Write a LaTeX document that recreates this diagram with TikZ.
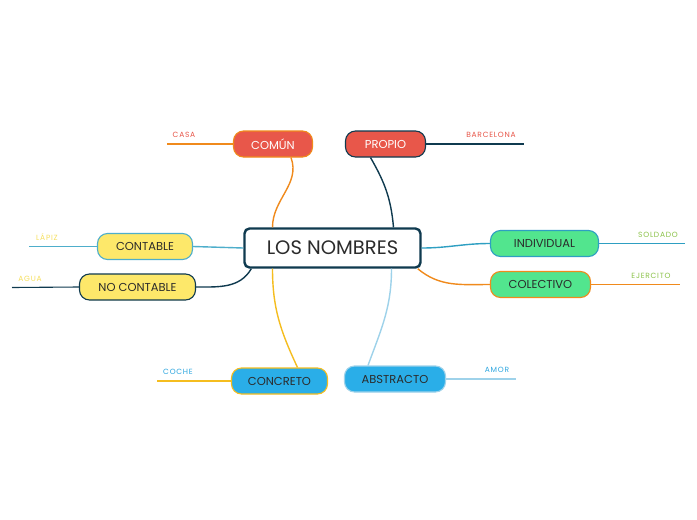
\documentclass[tikz,border=0pt]{standalone}
\usepackage{fontspec}
\setmainfont{Poppins}
\newfontfamily\espaciada[LetterSpace=10]{Poppins}
\definecolor{rojo}{HTML}{E8574A}
\definecolor{naranja}{HTML}{F08A1C}
\definecolor{marino}{HTML}{0F3A4F}
\definecolor{amarillo}{HTML}{FDE86A}
\definecolor{celeste}{HTML}{4EAECB}
\definecolor{verde}{HTML}{52E58E}
\definecolor{turquesa}{HTML}{2E9FC2}
\definecolor{azul}{HTML}{2AAEE8}
\definecolor{oro}{HTML}{F5BD1F}
\definecolor{palido}{HTML}{9ED2EA}
\definecolor{hoja}{HTML}{8CC34A}
\definecolor{hojaama}{HTML}{F6E060}
\definecolor{hojaazul}{HTML}{2FA7E0}
\definecolor{tinta}{HTML}{2B2B2B}
\begin{document}
\begin{tikzpicture}[x=1pt, y=-1pt,
    tema/.style={draw, line width=1.1pt, rounded corners=10pt, minimum height=26pt,
        inner sep=0pt, font=\fontsize{11.5}{13}\selectfont, text=tinta},
    hojita/.style={font=\espaciada\fontsize{7.5}{8}\selectfont, inner sep=0pt, anchor=base},
    rama/.style={line width=1.4pt},
    ramita/.style={line width=1.1pt}]
    \useasboundingbox[fill=white] (0,0) rectangle (697,520);

    % centro
    \node[draw=marino, fill=white, line width=2.4pt, rounded corners=5pt,
        minimum width=176pt, minimum height=39pt, text=tinta,
        font=\fontsize{19.5}{22}\selectfont] (nombres) at (332.5,248) {LOS NOMBRES};

    % temas
    \node[tema, draw=naranja, fill=rojo, text=white, minimum width=79pt] (comun) at (273,144) {COMÚN};
    \node[tema, draw=marino, fill=rojo, text=white, minimum width=80pt] (propio) at (385.5,144) {PROPIO};
    \node[tema, draw=celeste, fill=amarillo, minimum width=95pt] (contable) at (145,246.5) {CONTABLE};
    \node[tema, draw=marino, fill=amarillo, minimum width=116pt] (nocontable) at (137.5,287) {NO CONTABLE};
    \node[tema, draw=turquesa, fill=verde, minimum width=108pt] (individual) at (544.5,243.5) {INDIVIDUAL};
    \node[tema, draw=naranja, fill=verde, minimum width=100pt] (colectivo) at (540.5,284.5) {COLECTIVO};
    \node[tema, draw=oro, fill=azul, minimum width=96pt] (concreto) at (279.5,381) {CONCRETO};
    \node[tema, draw=palido, fill=azul, minimum width=101pt] (abstracto) at (395,379) {ABSTRACTO};

    % ramas
    \draw[rama, naranja] ([xshift=-60pt]nombres.north) to[out=90, in=-70] ([xshift=18pt]comun.south);
    \draw[rama, marino] ([xshift=61pt]nombres.north) to[out=95, in=-60] ([xshift=-15pt]propio.south);
    \draw[rama, celeste] (nombres.west) -- (contable.east);
    \draw[rama, marino] ([xshift=8pt]nombres.south west) to[out=-120, in=0] (nocontable.east);
    \draw[rama, turquesa] (nombres.east) to[out=0, in=180] (individual.west);
    \draw[rama, naranja] ([xshift=-4pt]nombres.south east) to[out=-40, in=180] (colectivo.west);
    \draw[rama, oro] ([xshift=-60pt]nombres.south) to[out=-90, in=115] ([xshift=18pt]concreto.north);
    \draw[rama, palido] ([xshift=59pt]nombres.south) to[out=-90, in=70] ([xshift=-27pt]abstracto.north);

    % hojas
    \coordinate (casafin) at (167,144);
    \coordinate (barcelonafin) at (524,144);
    \coordinate (lapizfin) at (29,246.5);
    \coordinate (aguafin) at (12,287.5);
    \coordinate (soldadofin) at (685,243.5);
    \coordinate (ejercitofin) at (680,284.5);
    \coordinate (cochefin) at (157,381);
    \coordinate (amorfin) at (516,379);

    \draw[ramita, naranja] (comun.west) -- (casafin);
    \draw[ramita, marino] (propio.east) -- (barcelonafin);
    \draw[ramita, celeste] (contable.west) -- (lapizfin);
    \draw[ramita, marino] (nocontable.west) -- (aguafin);
    \draw[ramita, turquesa] (individual.east) -- (soldadofin);
    \draw[ramita, naranja] (colectivo.east) -- (ejercitofin);
    \draw[ramita, oro] (concreto.west) -- (cochefin);
    \draw[ramita, palido] (abstracto.east) -- (amorfin);

    \node[hojita, text=rojo] (casa) at (184,137) {CASA};
    \node[hojita, text=rojo] (barcelona) at (491,137) {BARCELONA};
    \node[hojita, text=hojaama] (lapiz) at (47,240) {LÁPIZ};
    \node[hojita, text=hojaama] (agua) at (30,281) {AGUA};
    \node[hojita, text=hoja] (soldado) at (658,237) {SOLDADO};
    \node[hojita, text=hoja] (ejercito) at (651,278) {EJERCITO};
    \node[hojita, text=hojaazul] (coche) at (178,374) {COCHE};
    \node[hojita, text=hojaazul] (amor) at (497,372) {AMOR};
\end{tikzpicture}
\end{document}
